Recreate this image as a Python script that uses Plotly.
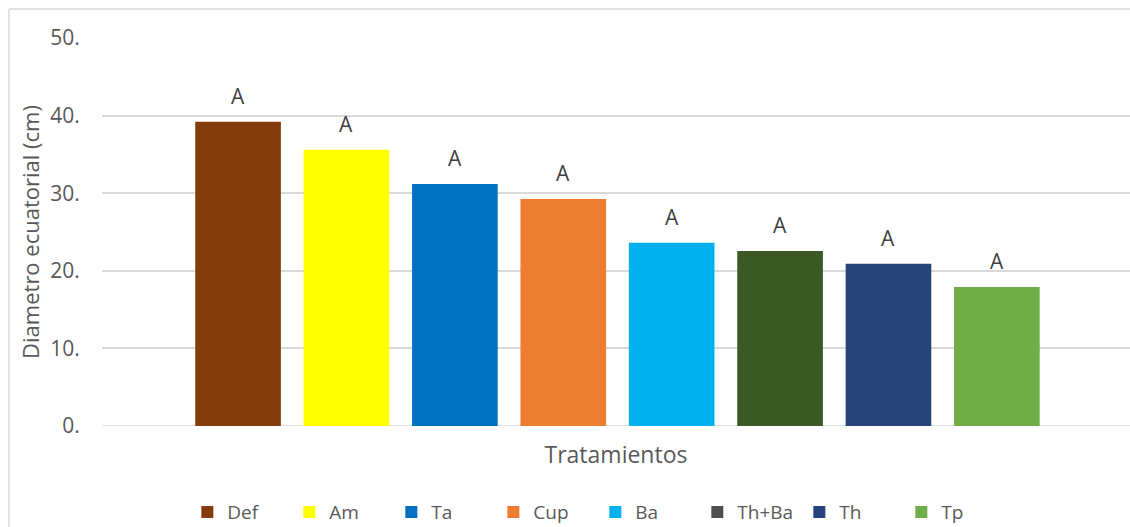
import plotly.graph_objects as go

categories = ["Def", "Am", "Ta", "Cup", "Ba", "Th+Ba", "Th", "Tp"]
values = [39.2, 35.6, 31.2, 29.25, 23.6, 22.55, 20.9, 17.9]
letters = ["A", "A", "A", "A", "A", "A", "A", "A"]
bar_colors = ["#843C0C", "#FFFF00", "#0070C0", "#ED7D31", "#00B0F0", "#3A5924", "#264478", "#70AD47"]
legend_colors = ["#843C0C", "#FFFF00", "#0070C0", "#ED7D31", "#00B0F0", "#4F4F4F", "#264478", "#70AD47"]
y_tickvals = [0, 10, 20, 30, 40, 50]
y_ticktext = ["0.", "10.", "20.", "30.", "40.", "50."]

FONT = "Open Sans"
TXT = "#595959"

fig = go.Figure()
fig.add_trace(go.Bar(x=categories, y=values, marker=dict(color=bar_colors, line=dict(width=0)),
                     width=0.79, showlegend=False, hoverinfo="x+y"))
for name, col in zip(categories, legend_colors):
    fig.add_trace(go.Bar(x=[categories[0]], y=[None], name=name,
                         marker=dict(color=col, line=dict(width=0)), showlegend=True))

for c, v, t in zip(categories, values, letters):
    fig.add_annotation(x=c, y=v, text=t, showarrow=False, yanchor="bottom", yshift=10,
                       font=dict(family=FONT, size=21, color="#404040"))

# outer chart border (top and left visible; chart cropped on right/bottom)
L, T = 102, 38
W, H = 1028, 388
bx = (9 - L) / W
by = (T + H - 9) / H
fig.add_shape(type="line", xref="paper", yref="paper", x0=bx, x1=1.2, y0=by, y1=by,
              line=dict(color="#D9D9D9", width=1.5))
fig.add_shape(type="line", xref="paper", yref="paper", x0=bx, x1=bx, y0=by, y1=-0.4,
              line=dict(color="#D9D9D9", width=1.5))

fig.update_layout(
    width=1130, height=527,
    margin=dict(l=L, r=0, t=T, b=527 - T - H, autoexpand=False),
    paper_bgcolor="white", plot_bgcolor="white",
    barmode="overlay",
    font=dict(family=FONT, color=TXT),
    showlegend=True,
    legend=dict(orientation="h", x=0.083, xanchor="left", y=-0.222, yanchor="middle",
                entrywidth=57, entrywidthmode="pixels",
                font=dict(family=FONT, size=19, color=TXT), itemclick=False,
                traceorder="normal"),
    xaxis=dict(type="category", range=[-1.255, 8.228], showticklabels=False, showgrid=False,
               zeroline=False, showline=False, ticks="",
               title=dict(text="Tratamientos", font=dict(family=FONT, size=23, color=TXT), standoff=20)),
    yaxis=dict(range=[0, 50], tickvals=y_tickvals, ticktext=y_ticktext, showgrid=True,
               gridcolor="#D9D9D9", gridwidth=1.5, zeroline=False, showline=False,
               ticks="outside", ticklen=17, tickcolor="rgba(0,0,0,0)",
               tickfont=dict(family=FONT, size=21, color=TXT),
               title=dict(text="Diametro ecuatorial (cm)", font=dict(family=FONT, size=22, color=TXT), standoff=4)),
)
fig.add_shape(type="line", xref="paper", yref="y", x0=0, x1=1, y0=0, y1=0,
              line=dict(color="#D9D9D9", width=1.5), layer="below")

fig.write_html("out.html")
